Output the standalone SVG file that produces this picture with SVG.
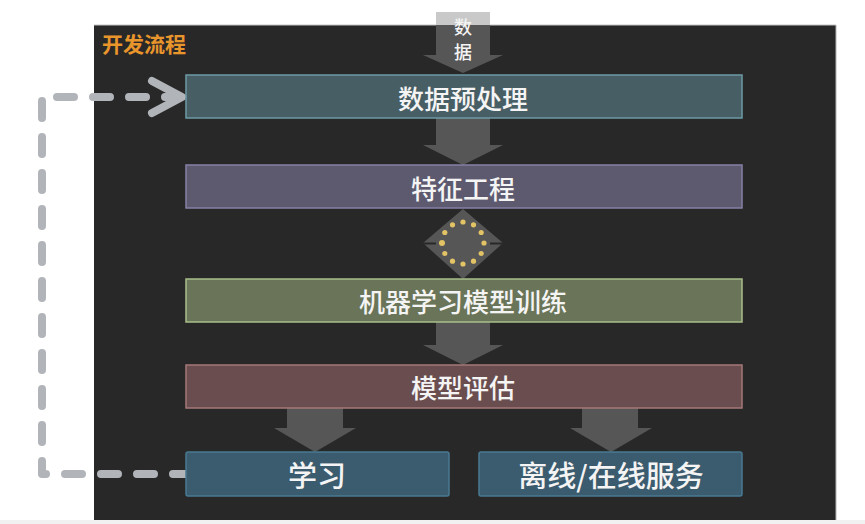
<svg xmlns="http://www.w3.org/2000/svg" width="865" height="524" viewBox="0 0 865 524">
<style>
.lbl{font-family:"Noto Sans CJK SC","Noto Sans",sans-serif;fill:#f4f4f4;text-anchor:middle;dominant-baseline:central;font-weight:500}
.arr{fill:#565656}
.dash{fill:none;stroke:#b1b5b9;stroke-width:8;stroke-linecap:round;stroke-linejoin:round;stroke-dasharray:17 19}
.dot{fill:#e2c365}
</style>
<rect x="0" y="0" width="865" height="524" fill="#ffffff"/>
<rect x="0" y="520" width="865" height="4" fill="#f1f1f1"/>
<g id="panel">
<rect x="94" y="25" width="742" height="495" fill="#282828"/>
<line x1="94" y1="25" x2="836" y2="25" stroke="#c4c4c4" stroke-width="1"/>
<line x1="836" y1="25" x2="836" y2="520" stroke="#b4b4b4" stroke-width="1"/>
<text x="102" y="43" font-family="Noto Sans CJK SC, sans-serif" font-size="21" font-weight="bold" fill="#e8952c" dominant-baseline="central">开发流程</text>
</g>
<g id="connectors">
<rect x="436" y="12" width="54" height="13" fill="#c9c9c9"/>
<path class="arr" d="M436,25 H490 V55 H503 L463,73 L423,55 H436 Z"/>
<path class="arr" d="M436,118 H490 V145 H503 L463,165 L423,145 H436 Z"/>
<path class="arr" d="M423,243 L463,209 L503,243 L463,279 Z"/>
<rect x="423" y="242.5" width="13" height="2" fill="#282828"/>
<rect x="490" y="242.5" width="13" height="2" fill="#282828"/>
<path class="arr" d="M436,322 H490 V345 H503 L463,365 L423,345 H436 Z"/>
<path class="arr" d="M287,408 H343 V428 H356 L315,452 L274,428 H287 Z"/>
<path class="arr" d="M582,408 H638 V428 H652 L611,452 L570,428 H582 Z"/>
<path class="dash" d="M190,474 H42 V97 H180"/>
<path fill="none" stroke="#b1b5b9" stroke-width="8" stroke-linecap="round" stroke-linejoin="round" d="M152,81 L182,97 L152,113"/>
</g>
<g id="data-label">
<text class="lbl" x="463" y="26" font-size="18">数</text>
<text class="lbl" x="463" y="51" font-size="18">据</text>
</g>
<g id="dots">
<circle class="dot" cx="484" cy="243" r="2.6"/>
<circle class="dot" cx="481.2" cy="253.5" r="2.6"/>
<circle class="dot" cx="473.5" cy="261.2" r="2.6"/>
<circle class="dot" cx="463" cy="264" r="2.6"/>
<circle class="dot" cx="452.5" cy="261.2" r="2.6"/>
<circle class="dot" cx="444.8" cy="253.5" r="2.6"/>
<circle class="dot" cx="442" cy="243" r="3"/>
<circle class="dot" cx="444.8" cy="232.5" r="2.6"/>
<circle class="dot" cx="452.5" cy="224.8" r="2.6"/>
<circle class="dot" cx="463" cy="222" r="2.6"/>
<circle class="dot" cx="473.5" cy="224.8" r="2.6"/>
<circle class="dot" cx="481.2" cy="232.5" r="2.6"/>
</g>
<g id="preprocess">
<rect x="186" y="75" width="556" height="43" fill="#485e65" stroke="#6c9ba7" stroke-width="1.5"/>
<text class="lbl" x="463" y="97" font-size="26">数据预处理</text>
</g>
<g id="feature">
<rect x="186" y="165" width="556" height="43" fill="#5d5a70" stroke="#8681a6" stroke-width="1.5"/>
<text class="lbl" x="463" y="187" font-size="26">特征工程</text>
</g>
<g id="training">
<rect x="186" y="279" width="556" height="43" fill="#6a7458" stroke="#a8bf8a" stroke-width="1.5"/>
<text class="lbl" x="463" y="300" font-size="26">机器学习模型训练</text>
</g>
<g id="evaluation">
<rect x="186" y="365" width="556" height="43" fill="#6a4e4f" stroke="#a57878" stroke-width="1.5"/>
<text class="lbl" x="463" y="386" font-size="26">模型评估</text>
</g>
<g id="learning">
<rect x="186" y="452" width="263" height="44" rx="2" fill="#3b5b6e" stroke="#497a92" stroke-width="1.5"/>
<text class="lbl" x="317" y="474" font-size="29">学习</text>
</g>
<g id="serving">
<rect x="479" y="452" width="263" height="44" rx="2" fill="#3b5b6e" stroke="#497a92" stroke-width="1.5"/>
<text class="lbl" x="611" y="474" font-size="29">离线/在线服务</text>
</g>
</svg>
